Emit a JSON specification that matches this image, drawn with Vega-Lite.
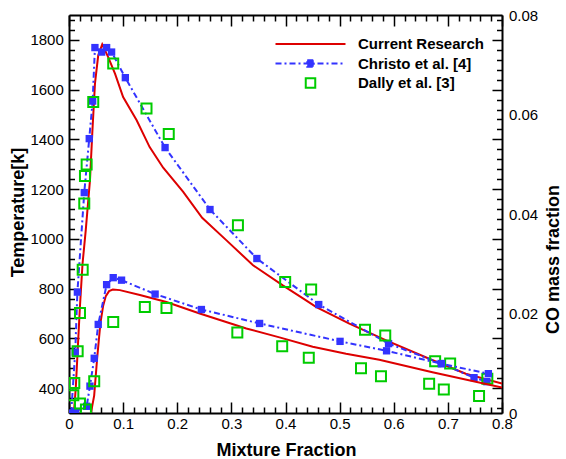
{
  "$schema": "https://vega.github.io/schema/vega-lite/v6.json",
  "width": 433,
  "height": 398,
  "autosize": {"type": "none"},
  "padding": {"left": 69, "top": 15, "right": 64, "bottom": 46},
  "background": "white",
  "config": {"view": {"stroke": null}, "font": "Liberation Sans"},
  "datasets": {
    "temperature": [
      {"series": "Current Research", "x": 0.009, "v": 300},
      {"series": "Current Research", "x": 0.0125, "v": 400},
      {"series": "Current Research", "x": 0.016, "v": 550},
      {"series": "Current Research", "x": 0.020, "v": 720},
      {"series": "Current Research", "x": 0.025, "v": 900},
      {"series": "Current Research", "x": 0.031, "v": 1036},
      {"series": "Current Research", "x": 0.0388, "v": 1237},
      {"series": "Current Research", "x": 0.043, "v": 1424},
      {"series": "Current Research", "x": 0.048, "v": 1625},
      {"series": "Current Research", "x": 0.054, "v": 1738},
      {"series": "Current Research", "x": 0.0614, "v": 1782},
      {"series": "Current Research", "x": 0.0724, "v": 1731},
      {"series": "Current Research", "x": 0.085, "v": 1664},
      {"series": "Current Research", "x": 0.100, "v": 1570},
      {"series": "Current Research", "x": 0.125, "v": 1477},
      {"series": "Current Research", "x": 0.149, "v": 1369},
      {"series": "Current Research", "x": 0.174, "v": 1286},
      {"series": "Current Research", "x": 0.211, "v": 1189},
      {"series": "Current Research", "x": 0.246, "v": 1085},
      {"series": "Current Research", "x": 0.291, "v": 994},
      {"series": "Current Research", "x": 0.340, "v": 894},
      {"series": "Current Research", "x": 0.395, "v": 813},
      {"series": "Current Research", "x": 0.438, "v": 753},
      {"series": "Current Research", "x": 0.457, "v": 726},
      {"series": "Current Research", "x": 0.518, "v": 659},
      {"series": "Current Research", "x": 0.586, "v": 592},
      {"series": "Current Research", "x": 0.672, "v": 512},
      {"series": "Current Research", "x": 0.733, "v": 458},
      {"series": "Current Research", "x": 0.800, "v": 418},
      {"series": "Christo et al. [4]", "x": 0.004, "v": 300},
      {"series": "Christo et al. [4]", "x": 0.0115, "v": 545},
      {"series": "Christo et al. [4]", "x": 0.0155, "v": 786},
      {"series": "Christo et al. [4]", "x": 0.0282, "v": 1186},
      {"series": "Christo et al. [4]", "x": 0.0374, "v": 1403},
      {"series": "Christo et al. [4]", "x": 0.0437, "v": 1554},
      {"series": "Christo et al. [4]", "x": 0.0479, "v": 1769},
      {"series": "Christo et al. [4]", "x": 0.0603, "v": 1751},
      {"series": "Christo et al. [4]", "x": 0.0695, "v": 1769},
      {"series": "Christo et al. [4]", "x": 0.0787, "v": 1751},
      {"series": "Christo et al. [4]", "x": 0.1041, "v": 1648},
      {"series": "Christo et al. [4]", "x": 0.1775, "v": 1367},
      {"series": "Christo et al. [4]", "x": 0.2605, "v": 1118},
      {"series": "Christo et al. [4]", "x": 0.3471, "v": 921},
      {"series": "Christo et al. [4]", "x": 0.4614, "v": 736},
      {"series": "Christo et al. [4]", "x": 0.5904, "v": 579},
      {"series": "Christo et al. [4]", "x": 0.6876, "v": 499},
      {"series": "Christo et al. [4]", "x": 0.7483, "v": 442},
      {"series": "Christo et al. [4]", "x": 0.7720, "v": 426},
      {"series": "Dally et al. [3]", "x": 0.008, "v": 371},
      {"series": "Dally et al. [3]", "x": 0.0098, "v": 421},
      {"series": "Dally et al. [3]", "x": 0.016, "v": 548},
      {"series": "Dally et al. [3]", "x": 0.0203, "v": 702},
      {"series": "Dally et al. [3]", "x": 0.0253, "v": 876},
      {"series": "Dally et al. [3]", "x": 0.0282, "v": 1142},
      {"series": "Dally et al. [3]", "x": 0.0295, "v": 1253},
      {"series": "Dally et al. [3]", "x": 0.0326, "v": 1299},
      {"series": "Dally et al. [3]", "x": 0.0448, "v": 1550},
      {"series": "Dally et al. [3]", "x": 0.0817, "v": 1705},
      {"series": "Dally et al. [3]", "x": 0.1432, "v": 1524},
      {"series": "Dally et al. [3]", "x": 0.1843, "v": 1422},
      {"series": "Dally et al. [3]", "x": 0.3121, "v": 1055},
      {"series": "Dally et al. [3]", "x": 0.3994, "v": 827},
      {"series": "Dally et al. [3]", "x": 0.4474, "v": 796},
      {"series": "Dally et al. [3]", "x": 0.5469, "v": 635},
      {"series": "Dally et al. [3]", "x": 0.5843, "v": 612},
      {"series": "Dally et al. [3]", "x": 0.6765, "v": 508},
      {"series": "Dally et al. [3]", "x": 0.7042, "v": 499},
      {"series": "Dally et al. [3]", "x": 0.7729, "v": 438}
    ],
    "co": [
      {"series": "Current Research", "x": 0.0405, "v": 0},
      {"series": "Current Research", "x": 0.0465, "v": 0.0035},
      {"series": "Current Research", "x": 0.052, "v": 0.011},
      {"series": "Current Research", "x": 0.058, "v": 0.018},
      {"series": "Current Research", "x": 0.063, "v": 0.0215},
      {"series": "Current Research", "x": 0.068, "v": 0.0235},
      {"series": "Current Research", "x": 0.074, "v": 0.0245},
      {"series": "Current Research", "x": 0.081, "v": 0.0248},
      {"series": "Current Research", "x": 0.094, "v": 0.0247},
      {"series": "Current Research", "x": 0.131, "v": 0.0237},
      {"series": "Current Research", "x": 0.180, "v": 0.0223},
      {"series": "Current Research", "x": 0.2415, "v": 0.0200},
      {"series": "Current Research", "x": 0.3276, "v": 0.0170},
      {"series": "Current Research", "x": 0.3889, "v": 0.0152},
      {"series": "Current Research", "x": 0.4503, "v": 0.0133},
      {"series": "Current Research", "x": 0.5119, "v": 0.0119},
      {"series": "Current Research", "x": 0.5733, "v": 0.0107},
      {"series": "Current Research", "x": 0.6715, "v": 0.0082},
      {"series": "Current Research", "x": 0.800, "v": 0.0051},
      {"series": "Christo et al. [4]", "x": 0.012, "v": 0.0003},
      {"series": "Christo et al. [4]", "x": 0.0326, "v": 0.00135},
      {"series": "Christo et al. [4]", "x": 0.0387, "v": 0.0054},
      {"series": "Christo et al. [4]", "x": 0.0466, "v": 0.011},
      {"series": "Christo et al. [4]", "x": 0.054, "v": 0.0178},
      {"series": "Christo et al. [4]", "x": 0.0695, "v": 0.0258},
      {"series": "Christo et al. [4]", "x": 0.0817, "v": 0.0272},
      {"series": "Christo et al. [4]", "x": 0.0971, "v": 0.0267},
      {"series": "Christo et al. [4]", "x": 0.1591, "v": 0.0239},
      {"series": "Christo et al. [4]", "x": 0.2446, "v": 0.0208},
      {"series": "Christo et al. [4]", "x": 0.3521, "v": 0.0180},
      {"series": "Christo et al. [4]", "x": 0.5008, "v": 0.0144},
      {"series": "Christo et al. [4]", "x": 0.5867, "v": 0.0125},
      {"series": "Christo et al. [4]", "x": 0.6881, "v": 0.0099},
      {"series": "Christo et al. [4]", "x": 0.7748, "v": 0.0079},
      {"series": "Dally et al. [3]", "x": 0.0203, "v": 0.0019},
      {"series": "Dally et al. [3]", "x": 0.0313, "v": 0.0007},
      {"series": "Dally et al. [3]", "x": 0.0466, "v": 0.0064},
      {"series": "Dally et al. [3]", "x": 0.0817, "v": 0.0183},
      {"series": "Dally et al. [3]", "x": 0.1401, "v": 0.0213},
      {"series": "Dally et al. [3]", "x": 0.1801, "v": 0.0211},
      {"series": "Dally et al. [3]", "x": 0.3110, "v": 0.0162},
      {"series": "Dally et al. [3]", "x": 0.3939, "v": 0.0134},
      {"series": "Dally et al. [3]", "x": 0.4430, "v": 0.0111},
      {"series": "Dally et al. [3]", "x": 0.5395, "v": 0.0090},
      {"series": "Dally et al. [3]", "x": 0.5764, "v": 0.0074},
      {"series": "Dally et al. [3]", "x": 0.6654, "v": 0.0059},
      {"series": "Dally et al. [3]", "x": 0.6925, "v": 0.0047},
      {"series": "Dally et al. [3]", "x": 0.7576, "v": 0.0034}
    ]
  },
  "layer": [
    {
      "data": {"name": "temperature"},
      "encoding": {
        "x": {
          "field": "x", "type": "quantitative",
          "scale": {"domain": [0, 0.8], "nice": false, "zero": false},
          "axis": {
            "orient": "bottom",
            "values": [0,0.02,0.04,0.06,0.08,0.1,0.12,0.14,0.16,0.18,0.2,0.22,0.24,0.26,0.28,0.3,0.32,0.34,0.36,0.38,0.4,0.42,0.44,0.46,0.48,0.5,0.52,0.54,0.56,0.58,0.6,0.62,0.64,0.66,0.68,0.7,0.72,0.74,0.76,0.78,0.8],
            "labelExpr": "round(datum.value*100) % 10 === 0 ? format(datum.value, '.1~f') : ''",
            "tickSize": {"expr": "-abs(round(datum.value*100) % 10 === 0 ? 11 : 6)"},
            "tickWidth": 1.5, "tickColor": "black",
            "domainColor": "black", "domainWidth": 2,
            "labelFont": "Liberation Sans", "labelFontSize": 15, "labelColor": "black",
            "labelPadding": 14, "labelFlush": false, "labelOverlap": false, "labelBound": false,
            "grid": false,
            "title": "Mixture Fraction", "titleFont": "Liberation Sans", "titleFontSize": 18, "titleFontWeight": "bold", "titleColor": "black",
            "titleX": 217, "titleY": 37, "titleAlign": "center", "titleBaseline": "middle"
          }
        },
        "y": {
          "field": "v", "type": "quantitative",
          "scale": {"domain": [300, 1900], "nice": false, "zero": false},
          "axis": {
            "orient": "left",
            "values": [320,360,400,440,480,520,560,600,640,680,720,760,800,840,880,920,960,1000,1040,1080,1120,1160,1200,1240,1280,1320,1360,1400,1440,1480,1520,1560,1600,1640,1680,1720,1760,1800,1840,1880],
            "labelExpr": "datum.value % 200 === 0 ? format(datum.value, 'd') : ''",
            "tickSize": {"expr": "-abs(datum.value % 200 === 0 ? 10 : 5.5)"},
            "tickWidth": 1.5, "tickColor": "black",
            "domainColor": "black", "domainWidth": 2,
            "labelFont": "Liberation Sans", "labelFontSize": 15, "labelColor": "black",
            "labelPadding": 15.7, "labelFlush": false, "labelOverlap": false, "labelBound": false,
            "grid": false,
            "title": "Temperature[k]", "titleFont": "Liberation Sans", "titleFontSize": 18, "titleFontWeight": "bold", "titleColor": "black",
            "titleX": -51, "titleY": 197, "titleAngle": -90, "titleAlign": "center", "titleBaseline": "middle"
          }
        },
        "color": {
          "field": "series", "type": "nominal",
          "scale": {"domain": ["Current Research", "Christo et al. [4]", "Dally et al. [3]"], "range": ["#dd0000", "#3333ff", "#00cc00"]},
          "legend": {
            "orient": "none", "legendX": 234, "legendY": 21.5, "title": null,
            "labelFont": "Liberation Sans", "labelFontSize": 15, "labelFontWeight": "bold", "labelColor": "black",
            "symbolSize": 100, "labelOffset": 40, "rowPadding": 3.5, "padding": 0, "labelLimit": 300,
            "encode": {
              "symbols": {
                "update": {
                  "shape": {"signal": "datum.value === 'Dally et al. [3]' ? 'M-1.15,-1.15H1.15V1.15H-1.15Z M-0.75,-0.75V0.75H0.75V-0.75Z' : (datum.value === 'Christo et al. [4]' ? 'M-7,0H7M-0.65,-0.65H0.65V0.65H-0.65Z' : 'M-7,0H7')"},
                  "size": {"value": 100},
                  "stroke": {"signal": "datum.value === 'Dally et al. [3]' ? '#00cc00' : (datum.value === 'Christo et al. [4]' ? '#3333ff' : '#dd0000')"},
                  "fill": {"signal": "datum.value === 'Dally et al. [3]' ? '#00cc00' : (datum.value === 'Christo et al. [4]' ? '#3333ff' : 'transparent')"},
                  "strokeWidth": {"signal": "datum.value === 'Dally et al. [3]' ? 0 : 2"},
                  "strokeDash": {"signal": "datum.value === 'Christo et al. [4]' ? [6,3,2,3] : [1,0]"},
                  "opacity": {"value": 1}
                }
              }
            }
          }
        }
      },
      "layer": [
        {"transform": [{"filter": "datum.series === 'Current Research'"}], "mark": {"type": "line", "strokeWidth": 2, "clip": true}},
        {"transform": [{"filter": "datum.series === 'Christo et al. [4]'"}], "mark": {"type": "line", "strokeWidth": 2, "strokeDash": [6, 3, 2, 3], "clip": true}},
        {"transform": [{"filter": "datum.series === 'Christo et al. [4]'"}], "mark": {"type": "point", "shape": "square", "filled": true, "size": 54, "opacity": 1, "clip": true}},
        {"transform": [{"filter": "datum.series === 'Dally et al. [3]'"}], "mark": {"type": "point", "shape": "square", "filled": false, "size": 100, "strokeWidth": 2, "opacity": 1, "clip": true}},
        {
          "data": {"values": [{}]},
          "mark": {"type": "point", "shape": "M-1,0L-0.32,-0.24L-0.32,-0.12L1,-0.12L1,0.12L-0.32,0.12L-0.32,0.24Z", "size": 1962, "filled": true, "stroke": "black", "strokeWidth": 1.2, "opacity": 1},
          "encoding": {"x": {"datum": 0.1062}, "y": {"datum": 1284}, "color": {"value": "white"}}
        },
        {
          "data": {"values": [{}]},
          "mark": {"type": "point", "shape": "M1,0L0.28,-0.25L0.28,-0.12L-1,-0.12L-1,0.12L0.28,0.12L0.28,0.25Z", "size": 2237, "filled": true, "stroke": "black", "strokeWidth": 1.2, "opacity": 1},
          "encoding": {"x": {"datum": 0.1925}, "y": {"datum": 576}, "color": {"value": "white"}}
        },
        {
          "data": {"values": [{}]},
          "mark": {"type": "text", "text": "Z= 30 mm", "align": "left", "baseline": "middle", "font": "Liberation Sans", "fontSize": 15, "fontWeight": "bold"},
          "encoding": {"x": {"datum": 0.5349}, "y": {"datum": 1487}, "color": {"value": "black"}}
        }
      ]
    },
    {
      "data": {"name": "co"},
      "encoding": {
        "x": {
          "field": "x", "type": "quantitative",
          "scale": {"domain": [0, 0.8], "nice": false, "zero": false},
          "axis": {
            "orient": "top",
            "values": [0,0.02,0.04,0.06,0.08,0.1,0.12,0.14,0.16,0.18,0.2,0.22,0.24,0.26,0.28,0.3,0.32,0.34,0.36,0.38,0.4,0.42,0.44,0.46,0.48,0.5,0.52,0.54,0.56,0.58,0.6,0.62,0.64,0.66,0.68,0.7,0.72,0.74,0.76,0.78,0.8],
            "labels": false,
            "tickSize": {"expr": "-abs(round(datum.value*100) % 10 === 0 ? 11 : 6)"},
            "tickWidth": 1.5, "tickColor": "black",
            "domainColor": "black", "domainWidth": 2,
            "grid": false, "title": null
          }
        },
        "y": {
          "field": "v", "type": "quantitative",
          "scale": {"domain": [0, 0.08], "nice": false, "zero": false},
          "axis": {
            "orient": "right",
            "values": [0,0.001,0.003,0.005,0.007,0.009,0.011,0.013,0.015,0.017,0.019,0.02,0.021,0.023,0.025,0.027,0.029,0.031,0.033,0.035,0.037,0.039,0.04,0.041,0.043,0.045,0.047,0.049,0.051,0.053,0.055,0.057,0.059,0.06,0.061,0.063,0.065,0.067,0.069,0.071,0.073,0.075,0.077,0.079,0.08],
            "labelExpr": "round(datum.value*1000) % 20 === 0 ? format(datum.value, '~g') : ''",
            "tickSize": {"expr": "-abs(round(datum.value*1000) % 20 === 0 ? 0 : (round(datum.value*1000) % 10 === 5 ? 10 : 5.5))"},
            "tickWidth": 1.5, "tickColor": "black",
            "domainColor": "black", "domainWidth": 2,
            "labelFont": "Liberation Sans", "labelFontSize": 15, "labelColor": "black",
            "labelPadding": 6.5, "labelFlush": false, "labelOverlap": false, "labelBound": false,
            "grid": false,
            "title": "CO mass fraction", "titleFont": "Liberation Sans", "titleFontSize": 18, "titleFontWeight": "bold", "titleColor": "black",
            "titleX": 51, "titleY": 244, "titleAngle": -90, "titleAlign": "center", "titleBaseline": "middle"
          }
        },
        "color": {
          "field": "series", "type": "nominal",
          "scale": {"domain": ["Current Research", "Christo et al. [4]", "Dally et al. [3]"], "range": ["#dd0000", "#3333ff", "#00cc00"]},
          "legend": {
            "orient": "none", "legendX": 234, "legendY": 21.5, "title": null,
            "labelFont": "Liberation Sans", "labelFontSize": 15, "labelFontWeight": "bold", "labelColor": "black",
            "symbolSize": 100, "labelOffset": 40, "rowPadding": 3.5, "padding": 0, "labelLimit": 300,
            "encode": {
              "symbols": {
                "update": {
                  "shape": {"signal": "datum.value === 'Dally et al. [3]' ? 'M-1.15,-1.15H1.15V1.15H-1.15Z M-0.75,-0.75V0.75H0.75V-0.75Z' : (datum.value === 'Christo et al. [4]' ? 'M-7,0H7M-0.65,-0.65H0.65V0.65H-0.65Z' : 'M-7,0H7')"},
                  "size": {"value": 100},
                  "stroke": {"signal": "datum.value === 'Dally et al. [3]' ? '#00cc00' : (datum.value === 'Christo et al. [4]' ? '#3333ff' : '#dd0000')"},
                  "fill": {"signal": "datum.value === 'Dally et al. [3]' ? '#00cc00' : (datum.value === 'Christo et al. [4]' ? '#3333ff' : 'transparent')"},
                  "strokeWidth": {"signal": "datum.value === 'Dally et al. [3]' ? 0 : 2"},
                  "strokeDash": {"signal": "datum.value === 'Christo et al. [4]' ? [6,3,2,3] : [1,0]"},
                  "opacity": {"value": 1}
                }
              }
            }
          }
        }
      },
      "layer": [
        {"transform": [{"filter": "datum.series === 'Current Research'"}], "mark": {"type": "line", "strokeWidth": 2, "clip": true}},
        {"transform": [{"filter": "datum.series === 'Christo et al. [4]'"}], "mark": {"type": "line", "strokeWidth": 2, "strokeDash": [6, 3, 2, 3], "clip": true}},
        {"transform": [{"filter": "datum.series === 'Christo et al. [4]'"}], "mark": {"type": "point", "shape": "square", "filled": true, "size": 54, "opacity": 1, "clip": true}},
        {"transform": [{"filter": "datum.series === 'Dally et al. [3]'"}], "mark": {"type": "point", "shape": "square", "filled": false, "size": 100, "strokeWidth": 2, "opacity": 1, "clip": true}}
      ]
    }
  ],
  "resolve": {"scale": {"y": "independent"}, "axis": {"x": "independent", "y": "independent"}}
}
